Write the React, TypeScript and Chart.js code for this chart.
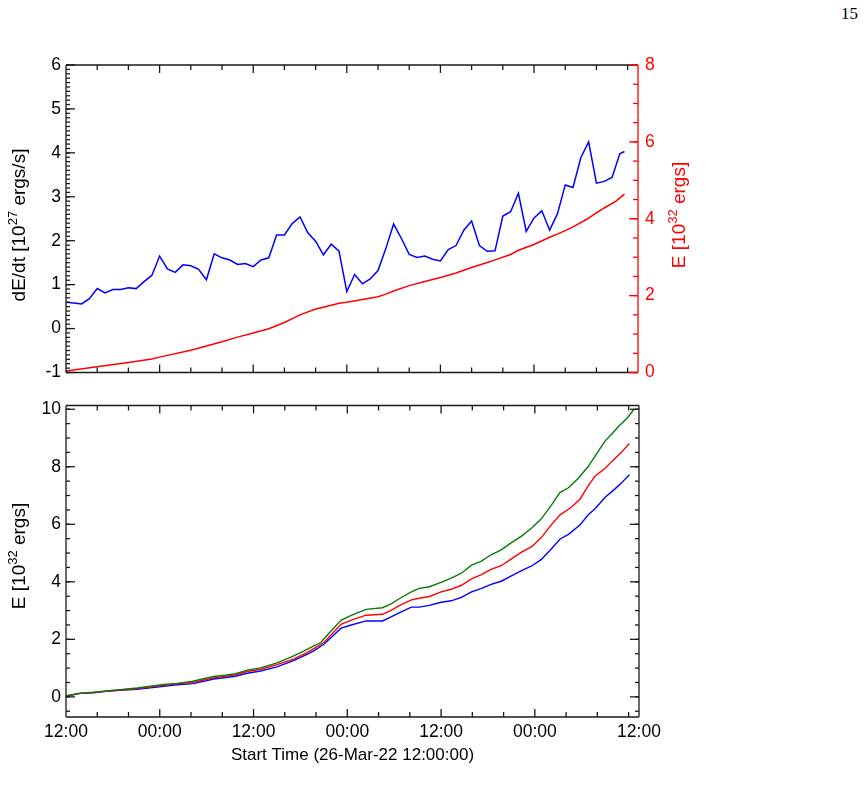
import React, { useEffect, useRef } from 'react';
import { Chart, registerables } from 'chart.js';

Chart.register(...registerables);

const FONT = '"Liberation Sans", Arial, Helvetica, sans-serif';

// ---------- time axis (hours since 26-Mar-22 12:00) ----------
const X_MAX = 73.33;
const TIME_LABEL_HOURS = [0, 12, 24, 36, 48, 60, X_MAX];
const TIME_LABELS = ['12:00', '00:00', '12:00', '00:00', '12:00', '00:00', '12:00'];
const TIME_MAJOR_TICKS = [12, 24, 36, 48, 60];
const TIME_MINOR_TICKS = [4, 8, 16, 20, 28, 32, 40, 44, 52, 56, 64, 68, 72];
const X_TITLE = 'Start Time (26-Mar-22 12:00:00)';

// ---------- top panel: dE/dt (blue, left axis) ----------
const rateHours = [
  0, 1, 2, 3, 4, 5, 6, 7, 8, 9,
  10, 11, 12, 13, 14, 15, 16, 17, 18, 19,
  20, 21, 22, 23, 24, 25, 26, 27, 28, 29,
  30, 31, 32, 33, 34, 35, 36, 37, 38, 39,
  40, 41, 42, 43, 44, 45, 46, 47, 48, 49,
  50, 51, 52, 53, 54, 55, 56, 57, 58, 59,
  60, 61, 62, 63, 64, 65, 66, 67, 68, 69,
  70, 71, 71.6,
];
const rateValues = [
  0.60, 0.58, 0.56, 0.68, 0.91, 0.81, 0.89, 0.89, 0.93, 0.91,
  1.07, 1.21, 1.65, 1.36, 1.28, 1.45, 1.43, 1.35, 1.11, 1.70,
  1.61, 1.56, 1.46, 1.48, 1.41, 1.56, 1.61, 2.13, 2.13, 2.39,
  2.54, 2.18, 1.99, 1.68, 1.92, 1.76, 0.84, 1.23, 1.02, 1.13,
  1.32, 1.82, 2.38, 2.05, 1.69, 1.62, 1.65, 1.58, 1.54, 1.80,
  1.89, 2.24, 2.45, 1.89, 1.76, 1.77, 2.56, 2.66, 3.08, 2.21,
  2.52, 2.68, 2.24, 2.61, 3.27, 3.21, 3.89, 4.25, 3.31, 3.35,
  3.44, 3.98, 4.03,
];

// ---------- top panel: E (red, right axis) ----------
const energyTopHours = [
  0, 4, 8, 11, 12, 16, 18, 20, 22, 24, 26, 28, 30, 32, 33, 35, 36, 38, 40, 41,
  42, 44, 46, 48, 50, 52, 54, 55, 57, 58, 60, 62, 63, 64, 65, 66.7, 67.6, 69, 70.5, 71.6,
];
const energyTopValues = [
  0.04, 0.15, 0.26, 0.35, 0.40, 0.58, 0.69, 0.80, 0.92, 1.03, 1.14, 1.30, 1.50, 1.65, 1.70, 1.80, 1.83, 1.90, 1.97, 2.04,
  2.12, 2.26, 2.37, 2.47, 2.59, 2.73, 2.86, 2.93, 3.07, 3.18, 3.33, 3.52, 3.60, 3.69, 3.79, 3.98, 4.10, 4.28, 4.46, 4.64,
];

// ---------- bottom panel: E (green / red / blue) ----------
const greenHours = [
  0, 1.8, 3.5, 5.2, 6.9, 9.1, 10.8, 12.5, 14.2, 16.1,
  17.6, 18.9, 20.6, 21.7, 23.2, 24.9, 27.0, 28.8, 30.5, 31.7,
  32.6, 33.5, 35.2, 36.5, 38.4, 40.5, 41.6, 42.7, 44.2, 45.2,
  46.5, 48.0, 49.3, 50.6, 51.9, 53.1, 54.4, 55.7, 57.0, 58.3,
  59.6, 60.8, 62.1, 63.2, 64.3, 65.6, 66.8, 67.9, 69.0, 69.8,
  70.7, 71.8, 72.7,
];
const greenValues = [
  0.03, 0.13, 0.16, 0.21, 0.25, 0.31, 0.37, 0.43, 0.47, 0.54,
  0.63, 0.71, 0.76, 0.81, 0.93, 1.01, 1.18, 1.38, 1.60, 1.77,
  1.89, 2.17, 2.66, 2.83, 3.04, 3.10, 3.23, 3.42, 3.65, 3.77,
  3.83, 3.98, 4.13, 4.30, 4.58, 4.71, 4.94, 5.11, 5.36, 5.59,
  5.87, 6.18, 6.66, 7.10, 7.27, 7.61, 8.00, 8.45, 8.90, 9.12,
  9.40, 9.69, 10.0,
];

const redHours = [
  0, 1.8, 3.5, 5.2, 6.9, 9.1, 12.5, 14.2, 16.3, 18.9,
  21.5, 23.2, 24.9, 27.0, 29.2, 30.9, 31.7, 33.0, 35.2, 36.5,
  38.4, 40.5, 41.6, 42.7, 44.2, 45.2, 46.5, 48.0, 49.3, 50.6,
  51.9, 53.1, 54.4, 55.7, 57.0, 58.3, 59.6, 60.8, 62.1, 63.2,
  64.7, 65.8, 66.8, 67.7, 69.0, 69.8, 71.1, 72.1,
];
const redValues = [
  0.03, 0.12, 0.15, 0.20, 0.24, 0.29, 0.40, 0.45, 0.51, 0.66,
  0.76, 0.88, 0.96, 1.12, 1.32, 1.55, 1.68, 1.89, 2.52, 2.67,
  2.84, 2.87, 3.01, 3.18, 3.37, 3.43, 3.49, 3.65, 3.74, 3.88,
  4.10, 4.24, 4.43, 4.56, 4.80, 5.03, 5.22, 5.53, 5.98, 6.32,
  6.60, 6.88, 7.33, 7.67, 7.95, 8.17, 8.51, 8.81,
];

const blueHours = [
  0, 1.8, 3.5, 5.2, 6.9, 9.1, 12.5, 14.2, 16.3, 18.9,
  21.5, 23.2, 24.9, 27.0, 29.2, 30.9, 31.7, 33.0, 35.2, 36.5,
  38.4, 40.5, 41.6, 42.7, 44.2, 45.2, 46.5, 48.0, 49.3, 50.6,
  51.9, 53.1, 54.4, 55.7, 57.0, 58.3, 59.6, 60.8, 62.1, 63.2,
  64.3, 65.8, 66.8, 67.7, 69.0, 70.3, 71.1, 72.1,
];
const blueValues = [
  0.03, 0.12, 0.14, 0.19, 0.23, 0.26, 0.37, 0.42, 0.46, 0.62,
  0.71, 0.82, 0.90, 1.04, 1.27, 1.49, 1.60, 1.83, 2.39, 2.50,
  2.64, 2.64, 2.78, 2.93, 3.12, 3.12, 3.18, 3.29, 3.34, 3.46,
  3.65, 3.76, 3.91, 4.02, 4.21, 4.39, 4.55, 4.77, 5.14, 5.48,
  5.65, 5.98, 6.32, 6.54, 6.94, 7.24, 7.44, 7.72,
];

// ---------- axis ticks ----------
const RATE_TICKS = [-1, 0, 1, 2, 3, 4, 5, 6];
const ENERGY_TOP_TICKS = [0, 2, 4, 6, 8];
const ENERGY_BOTTOM_TICKS = [0, 2, 4, 6, 8, 10];

const BLUE = '#0000ff';
const RED = '#ff0000';
const GREEN = '#0a780a';
const FRAME = '#1a1a1a';

function steps(a: number, b: number, step: number): number[] {
  const out: number[] = [];
  const n = Math.round((b - a) / step);
  for (let i = 0; i <= n; i++) out.push(+(a + i * step).toFixed(4));
  return out;
}

function pts(xs: number[], ys: number[]) {
  return xs.map((x, i) => ({ x, y: ys[i] }));
}

type Side = 'left' | 'right' | 'top' | 'bottom';
interface TickSet { axis: string; sides: Side[]; major: number[]; minor: number[]; majorLen: number; minorLen: number; color: string; }
interface Edge { side: Side; color: string; }
interface TitlePart { text: string; sup?: boolean; }
interface RotTitle { parts: TitlePart[]; baselineX: number; centerY: number; size: number; color: string; }

function makeFramePlugin(edges: Edge[], ticks: TickSet[], titles: RotTitle[]) {
  return {
    id: 'idlFrame',
    afterDatasetsDraw(chart: any) {
      const ctx = chart.ctx as CanvasRenderingContext2D;
      const a = chart.chartArea;
      ctx.save();
      ctx.lineWidth = 1.3;
      ctx.lineCap = 'butt';
      for (const e of edges) {
        ctx.strokeStyle = e.color;
        ctx.beginPath();
        if (e.side === 'left') { ctx.moveTo(a.left, a.top); ctx.lineTo(a.left, a.bottom); }
        if (e.side === 'right') { ctx.moveTo(a.right, a.top); ctx.lineTo(a.right, a.bottom); }
        if (e.side === 'top') { ctx.moveTo(a.left, a.top); ctx.lineTo(a.right, a.top); }
        if (e.side === 'bottom') { ctx.moveTo(a.left, a.bottom); ctx.lineTo(a.right, a.bottom); }
        ctx.stroke();
      }
      for (const t of ticks) {
        const scale = chart.scales[t.axis];
        ctx.strokeStyle = t.color;
        const list: [number, number][] = [
          ...t.minor.map((v) => [v, t.minorLen] as [number, number]),
          ...t.major.map((v) => [v, t.majorLen] as [number, number]),
        ];
        for (const [v, len] of list) {
          const p = scale.getPixelForValue(v);
          for (const s of t.sides) {
            ctx.beginPath();
            if (s === 'left') { ctx.moveTo(a.left, p); ctx.lineTo(a.left + len, p); }
            if (s === 'right') { ctx.moveTo(a.right, p); ctx.lineTo(a.right - len, p); }
            if (s === 'top') { ctx.moveTo(p, a.top); ctx.lineTo(p, a.top + len); }
            if (s === 'bottom') { ctx.moveTo(p, a.bottom); ctx.lineTo(p, a.bottom - len); }
            ctx.stroke();
          }
        }
      }
      for (const t of titles) {
        const supSize = Math.round(t.size * 0.68);
        let total = 0;
        const widths = t.parts.map((p) => {
          ctx.font = `${p.sup ? supSize : t.size}px ${FONT}`;
          const w = ctx.measureText(p.text).width;
          total += w;
          return w;
        });
        ctx.save();
        ctx.fillStyle = t.color;
        ctx.translate(t.baselineX, t.centerY);
        ctx.rotate(-Math.PI / 2);
        ctx.textAlign = 'left';
        ctx.textBaseline = 'alphabetic';
        let x = -total / 2;
        t.parts.forEach((p, i) => {
          ctx.font = `${p.sup ? supSize : t.size}px ${FONT}`;
          ctx.fillText(p.text, x, p.sup ? -t.size * 0.42 : 0);
          x += widths[i];
        });
        ctx.restore();
      }
      ctx.restore();
    },
  };
}

const noGrid = { display: false, drawTicks: false };
const noBorder = { display: false };
const tickFont = { family: FONT, size: 17.5 };

function buildTop(canvas: HTMLCanvasElement) {
  const plugin = makeFramePlugin(
    [
      { side: 'left', color: FRAME },
      { side: 'top', color: FRAME },
      { side: 'bottom', color: FRAME },
      { side: 'right', color: RED },
    ],
    [
      { axis: 'y', sides: ['left'], major: RATE_TICKS, minor: steps(-1, 6, 0.1), majorLen: 9, minorLen: 4, color: FRAME },
      { axis: 'x', sides: ['top', 'bottom'], major: TIME_MAJOR_TICKS, minor: TIME_MINOR_TICKS, majorLen: 8, minorLen: 5, color: FRAME },
      { axis: 'y2', sides: ['right'], major: ENERGY_TOP_TICKS, minor: steps(0, 8, 0.5), majorLen: 9, minorLen: 5, color: RED },
    ],
    [
      { parts: [{ text: 'dE/dt [10' }, { text: '27', sup: true }, { text: ' ergs/s]' }], baselineX: 25, centerY: 225, size: 19, color: '#000' },
      { parts: [{ text: 'E [10' }, { text: '32', sup: true }, { text: ' ergs]' }], baselineX: 685, centerY: 215, size: 19, color: RED },
    ],
  );
  return new Chart(canvas, {
    type: 'line',
    data: {
      datasets: [
        { label: 'dE/dt', data: pts(rateHours, rateValues), borderColor: BLUE, borderWidth: 1.5, pointRadius: 0, yAxisID: 'y', xAxisID: 'x' },
        { label: 'E', data: pts(energyTopHours, energyTopValues), borderColor: RED, borderWidth: 1.5, pointRadius: 0, yAxisID: 'y2', xAxisID: 'x' },
      ],
    },
    options: {
      responsive: false,
      animation: false,
      devicePixelRatio: 1,
      events: [],
      layout: { padding: { top: 65, left: 0, right: 0, bottom: 0 } },
      plugins: { legend: { display: false }, tooltip: { enabled: false } },
      scales: {
        x: {
          type: 'linear', min: 0, max: X_MAX,
          ticks: { display: false }, grid: noGrid, border: noBorder,
          afterFit: (s: any) => { s.height = 10; },
        },
        y: {
          type: 'linear', position: 'left', min: -1, max: 6,
          ticks: { stepSize: 1, font: tickFont, color: '#000', padding: 5 },
          grid: noGrid, border: noBorder,
          afterFit: (s: any) => { s.width = 66; },
        },
        y2: {
          type: 'linear', position: 'right', min: 0, max: 8,
          ticks: { stepSize: 2, font: tickFont, color: RED, padding: 7 },
          grid: noGrid, border: noBorder,
          afterFit: (s: any) => { s.width = 227; },
        },
      },
    } as any,
    plugins: [plugin as any],
  });
}

function buildBottom(canvas: HTMLCanvasElement) {
  const plugin = makeFramePlugin(
    [
      { side: 'left', color: FRAME },
      { side: 'top', color: FRAME },
      { side: 'bottom', color: FRAME },
      { side: 'right', color: FRAME },
    ],
    [
      { axis: 'y', sides: ['left', 'right'], major: ENERGY_BOTTOM_TICKS, minor: steps(-0.5, 10, 0.5), majorLen: 9, minorLen: 4, color: FRAME },
      { axis: 'x', sides: ['top', 'bottom'], major: TIME_MAJOR_TICKS, minor: TIME_MINOR_TICKS, majorLen: 8, minorLen: 5, color: FRAME },
    ],
    [
      { parts: [{ text: 'E [10' }, { text: '32', sup: true }, { text: ' ergs]' }], baselineX: 25, centerY: 166, size: 19, color: '#000' },
    ],
  );
  return new Chart(canvas, {
    type: 'line',
    data: {
      datasets: [
        { label: 'E green', data: pts(greenHours, greenValues), borderColor: GREEN, borderWidth: 1.4, pointRadius: 0 },
        { label: 'E red', data: pts(redHours, redValues), borderColor: RED, borderWidth: 1.4, pointRadius: 0 },
        { label: 'E blue', data: pts(blueHours, blueValues), borderColor: BLUE, borderWidth: 1.4, pointRadius: 0 },
      ],
    },
    options: {
      responsive: false,
      animation: false,
      devicePixelRatio: 1,
      events: [],
      layout: { padding: { top: 5, left: 0, right: 226, bottom: 0 } },
      plugins: { legend: { display: false }, tooltip: { enabled: false } },
      scales: {
        x: {
          type: 'linear', min: 0, max: X_MAX,
          afterBuildTicks: (s: any) => { s.ticks = TIME_LABEL_HOURS.map((v) => ({ value: v })); },
          ticks: {
            autoSkip: false, maxRotation: 0, minRotation: 0, font: tickFont, color: '#000', padding: 5,
            callback: (_v: any, i: number) => TIME_LABELS[i],
          },
          grid: noGrid, border: noBorder,
          title: { display: true, text: X_TITLE, font: { family: FONT, size: 17 }, color: '#000', padding: { top: 0, bottom: 28 } },
          afterFit: (s: any) => { s.height = 77; },
        },
        y: {
          type: 'linear', position: 'left', min: -0.7, max: 10.13,
          afterBuildTicks: (s: any) => { s.ticks = ENERGY_BOTTOM_TICKS.map((v) => ({ value: v })); },
          ticks: { font: tickFont, color: '#000', padding: 5 },
          grid: noGrid, border: noBorder,
          afterFit: (s: any) => { s.width = 66; },
        },
      },
    } as any,
    plugins: [plugin as any],
  });
}

function ChartCanvas({ top, height, build }: { top: number; height: number; build: (c: HTMLCanvasElement) => Chart }) {
  const ref = useRef<HTMLCanvasElement>(null);
  useEffect(() => {
    const chart = build(ref.current as HTMLCanvasElement);
    return () => chart.destroy();
  }, []);
  return (
    <canvas
      ref={ref}
      width={865}
      height={height}
      style={{ position: 'absolute', left: 0, top, width: 865, height, display: 'block' }}
    />
  );
}

export default function App() {
  return (
    <div style={{ position: 'absolute', left: 0, top: 0, width: 865, height: 794, background: '#fff', overflow: 'hidden' }}>
      <div
        style={{
          position: 'absolute', left: 841, top: 5,
          fontFamily: '"Liberation Serif", "DejaVu Serif", serif', fontSize: 17, lineHeight: '17px', color: '#000',
        }}
      >
        15
      </div>
      <ChartCanvas top={0} height={390} build={buildTop} />
      <ChartCanvas top={390} height={404} build={buildBottom} />
    </div>
  );
}
